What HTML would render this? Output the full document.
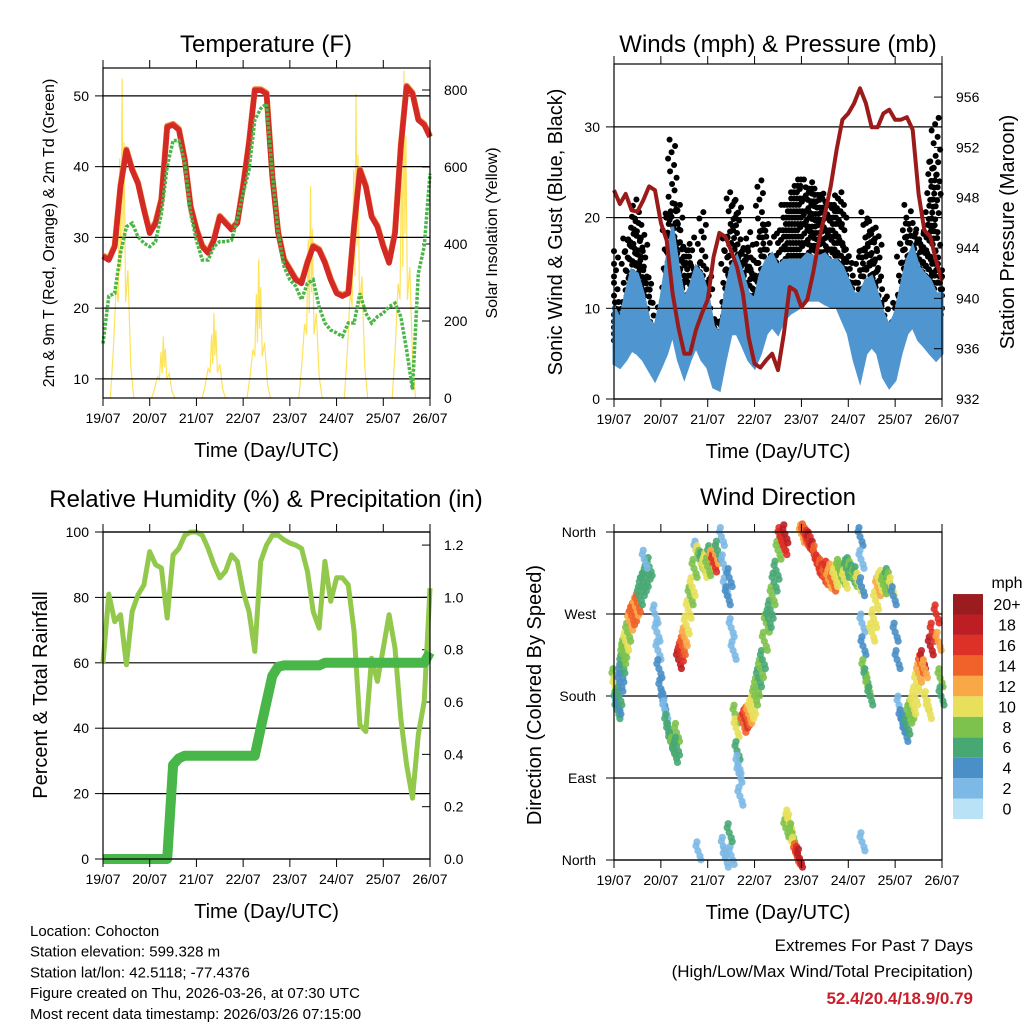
<!DOCTYPE html>
<html><head><meta charset="utf-8"><style>
body{margin:0;background:#fff;}
svg{display:block;font-family:"Liberation Sans",sans-serif;}
</style></head><body>
<svg id="c" width="1024" height="1024" viewBox="0 0 1024 1024"></svg>
<script>
// ---- data (3-hour samples, t = 0..168 h) ----
const tempF=[27.3,26.8,28.7,37.2,42.3,39.5,37.6,33.9,30.6,32,35.3,45.6,45.9,45.2,40.9,34.3,31.1,28.7,27.8,29.6,32.9,32,31.1,32,37.2,43.3,50.8,50.8,50.3,38.6,30.6,26.8,25.4,24,23.5,26.4,28.7,28.2,26.4,24,22.1,21.7,22.1,31.5,39.5,37.2,32.9,31.5,28.7,26.4,30.6,42.8,51.3,50.3,46.6,45.9,44.2];
const dewF=[15,21.7,22.1,27.8,31.5,32,30.1,29.2,28.7,29.4,33.4,40,43.7,43.7,40.5,33.4,29.6,26.8,26.8,28.7,29.4,29.4,29.6,32.5,36.2,39.5,46.6,48.2,48.9,39,30.6,25.9,24,23.1,21.2,23.5,24,20.2,17.9,16.9,16.5,16,17.9,17.9,22.1,19.3,17.9,18.8,19.3,20.2,20.7,18.8,14.1,8.5,24.9,28.7,39];
const solarPeakHour=[9.8,31,57,80,106.6,130,154.6];
const solarPeak=[830,160,220,360,550,790,850];
const pressure=[948.6,947.5,948.3,947,946.9,947.8,948.9,948.6,946,944.6,940.4,937.7,935.6,935.6,937.5,938.8,939.9,943.3,945.2,944.9,943.8,942.5,940.4,936.9,934.8,934.5,935.1,935.6,934.3,937.2,940.9,940.6,939.3,939.9,942,944.6,946.7,948.9,951.8,954.2,954.7,955.5,956.7,955.5,953.6,953.6,954.7,955,954.2,954.2,954.4,953.4,948.3,945.4,944.9,943,941.4];
const windHi=[10.2,8.7,11.6,14.2,13.8,11.6,8.7,8,11,15.3,19,14.6,11,12.4,14.6,13.8,11.6,8,7.2,11.6,14.6,15.7,13.8,11.6,11,13.8,15.3,16,14.6,15.3,15.3,15.3,15.3,16,15.7,15.7,16,15.3,15.3,14.6,13.1,11.6,11.6,13.1,13.5,11.6,9.4,8,9.4,12.4,15.3,16.8,14.6,13.8,13.1,11.6,11.6];
const windLo=[3.9,3.5,4.3,5.4,5,4.3,3.2,2.1,3.5,5,7.2,4.3,2.4,4.3,5.8,4.3,3.5,1.3,1,4.3,7.2,7.2,5.8,4.3,3.5,5,7.2,8,7.2,8.7,9.4,9.8,10.2,10.9,10.9,10.9,10.5,10.2,10.2,8.7,7.2,4.3,2.1,5,5.8,5,2.4,1.3,2.1,5,7.2,8,6.5,5.8,5,4.3,5];
const gust=[16.4,10.9,17.9,20.1,22,18.3,13.5,8,11.6,20.8,28.6,22,16.8,18.3,15.3,21.2,13.5,9.1,9.4,18.3,23.4,22,16.8,19,15.3,24.2,19.7,15.3,18.3,22,22.7,24.2,24.2,23.4,24.5,23.4,22.7,22,22.7,23.4,16.8,13.1,16.8,21.2,19.7,18.3,11.6,6.5,11.6,18.3,22,19.7,18.3,19.4,26.4,31.2,15.3];
const rh=[60,81,72.6,74.7,59.4,75.7,80.8,83.8,94,90,89,73.7,93,95,99,100,100,99,95,90,86,88,93,91,81.8,75.7,63.5,91,96,99,99,97.6,96.6,96,95,88,75.7,70.6,91,78.8,86,86,83.8,69.6,41,39,61.4,54.3,64.5,74.7,64.5,43,28.8,18.6,38,48.2,82.8];
const precip=[0,0,0,0,0,0,0,0,0,0,0,0,0.36,0.385,0.395,0.395,0.395,0.395,0.395,0.395,0.395,0.395,0.395,0.395,0.395,0.395,0.395,0.5,0.6,0.7,0.735,0.74,0.74,0.74,0.74,0.74,0.74,0.74,0.75,0.75,0.75,0.75,0.75,0.75,0.75,0.75,0.75,0.75,0.75,0.75,0.75,0.75,0.75,0.75,0.75,0.75,0.79];
const dirTime=[0,0.5,1,1.5,2,2.5,3,3.5,4,4.5,5,6,7,8,9,10,11,12,13,14,15,16,17,18,15.5,21,22,22.5,23,24,25,26,27,28,29,30,31,32,32,33,34,35,36,37,38,39,40,41,42,43,44,45,46,47,48,49,50,51,52,53,55,56,57,58,59,60,61,62,62.5,63,63.5,64,64.5,66,67,68,69,70,71,72,73,74,75,76,77,78,79,80,81,82,83,84,85,86,87,87.5,88,89,90,91,92,93,94,95,96,97,98,99,100,101,102,103,104,105,106,107,108,109,110,111,112,113,114,115,116,117,118,119,120,121,122,123,124,125,126,126.5,126.8,127,127.5,128,129,130,131,132,133,134,135,136,137,138,139,140,141,142,143,144,145,146,147,148,149,150,151,152,153,154,155,156,157,158,159,160,161,162,163,165,166,167,167.5,43,56,57,60,59,127];
const dirDeg=[200,190,175,165,170,180,195,205,215,225,232,240,250,262,268,272,278,282,290,300,305,310,318,322,330,270,250,230,210,188,175,165,150,140,130,125,117,140,125,220,228,235,245,258,275,290,300,320,340,335,330,328,320,327,322,335,330,326,335,340,355,325,300,290,310,255,230,160,145,120,105,95,70,150,155,158,160,165,170,180,190,200,210,220,240,260,265,275,290,305,318,340,355,350,345,358,35,45,40,30,15,8,5,2,358,359,355,352,350,345,340,335,325,322,320,315,312,318,308,315,305,310,315,320,316,312,308,320,322,318,314,310,312,305,355,330,300,260,235,210,200,190,180,250,265,285,300,305,308,302,305,310,306,300,290,250,220,170,155,150,140,148,160,165,170,180,195,205,215,220,210,175,165,235,250,270,240,200,180,10,15,2,5,30,20];
const dirSpeed=[8,10,6,6,5,7,4,5,6,8,8,10,9,12,14,15,12,14,6,7,6,7,6,6,3,2,3,2,4,4,4,3,6,7,7,8,6,9,6,18,16,14,12,10,10,8,10,8,3,10,8,6,10,10,8,6,12,16,12,7,3,2,3,4,4,3,2,8,10,6,2,3,3,14,16,14,12,10,10,8,8,6,8,6,8,8,6,6,8,7,6,8,16,16,16,18,8,10,10,8,10,14,16,18,12,14,14,16,18,16,18,14,16,16,14,16,14,16,12,12,14,10,10,8,8,8,10,6,6,8,6,8,6,10,4,3,4,3,4,8,6,8,6,10,10,10,12,10,10,8,8,6,8,10,4,4,4,3,4,4,4,6,8,8,10,10,10,12,14,18,12,10,10,18,16,16,12,8,6,3,3,3,3,6,3];
const dayLabels=["19/07","20/07","21/07","22/07","23/07","24/07","25/07","26/07"];
const speedColors=["#b9e2f7","#7cb9e6","#4a8fc7","#48a874","#7dc24c","#e8e05a","#f8a847","#f0622a","#dd3127","#bd1e24","#9b1c1f"];
const speedLabels=["0","2","4","6","8","10","12","14","16","18","20+"];

const NS="http://www.w3.org/2000/svg";
const svg=document.getElementById('c');
function mk(tag,attrs,parent){const e=document.createElementNS(NS,tag);for(const k in attrs)e.setAttribute(k,attrs[k]);(parent||svg).appendChild(e);return e;}
function txt(s,x,y,size,anchor,extra,name){const e=mk('text',Object.assign({x:x,y:y,'font-size':size,'text-anchor':anchor||'middle',fill:'#000'},extra||{}));e.textContent=s;


return e;}
function tAt(i){return i*3;}

function frame(p,name){
  const g=mk('g',{});
  
  
  p.g=g;
  p.x=t=>p.x0+t/168*(p.x1-p.x0);
  return g;
}
function border(p){
  const r=mk('rect',{x:p.x0,y:p.y0,width:p.x1-p.x0,height:p.y1-p.y0,fill:'none',stroke:'#000','stroke-width':1.2},p.g);
  
  
  for(let d=0;d<=7;d++){const x=p.x0+d*(p.x1-p.x0)/7;
    mk('line',{x1:x,x2:x,y1:p.y1,y2:p.y1+8,stroke:'#000','stroke-width':1},p.g);
    mk('line',{x1:x,x2:x,y1:p.y0,y2:p.y0-8,stroke:'#000','stroke-width':1},p.g);
    txt(dayLabels[d],x,p.y1+25,14,'middle',{},'x-tick-label');
  }
  txt('Time (Day/UTC)',(p.x0+p.x1)/2,p.y1+59,20,'middle',{},'x-axis-title');
}
function hgrid(p,y,lab){
  mk('line',{x1:p.x0,x2:p.x1,y1:y,y2:y,stroke:'#000','stroke-width':1.2},p.g);
  mk('line',{x1:p.x0-8,x2:p.x0,y1:y,y2:y,stroke:'#000','stroke-width':1},p.g);
  if(lab!==null)txt(lab,p.x0-14,y+5,14,'end',{},'y-tick-label');
}
function rtick(p,y,lab){
  mk('line',{x1:p.x1,x2:p.x1-8,y1:y,y2:y,stroke:'#000','stroke-width':1},p.g);
  txt(lab,p.x1+14,y+5,14,'start',{},'y2-tick-label');
}
function pathFrom(xs,ys){return xs.map((x,i)=>(i?'L':'M')+x.toFixed(1)+' '+ys[i].toFixed(1)).join(' ');}

// ===== Panel 1: Temperature =====
const P1={x0:103,x1:430,y0:68,y1:398};
frame(P1,'temperature-panel');
const yT=v=>398-(v-7.3)*7.075, yS=v=>398-v*0.385;
txt('Temperature (F)',266,52,24,'middle',{},'temperature-title');
solarPeakHour.forEach((h,i)=>{
  const pk=solarPeak[i];
  const pts=[[h-6,0],[h-4.5,pk*0.15],[h-3,pk*0.35],[h-2,pk*0.3],[h-1.2,pk*0.75],[h-0.6,pk*0.4],[h,pk],[h+0.5,pk*0.5],[h+1,pk*0.8],[h+1.8,pk*0.3],[h+3,pk*0.4],[h+4.5,pk*0.1],[h+6,0]];
  const e=mk('path',{d:pathFrom(pts.map(q=>P1.x(Math.max(0,Math.min(168,q[0])))),pts.map(q=>yS(q[1]))),fill:'none',stroke:'#fde35b','stroke-width':1.2},P1.g);
  
  
});
[10,20,30,40,50].forEach(v=>hgrid(P1,yT(v),String(v)));
[0,200,400,600,800].forEach(v=>rtick(P1,yS(v),String(v)));
const xs1=tempF.map((v,i)=>P1.x(tAt(i)));
let e=mk('path',{d:pathFrom(xs1,tempF.map(v=>yT(v)-1)),fill:'none',stroke:'#f08a3a','stroke-width':6,'stroke-linejoin':'round'},P1.g);

e=mk('path',{d:pathFrom(xs1,tempF.map(yT)),fill:'none',stroke:'#d42a26','stroke-width':5.5,'stroke-linejoin':'round'},P1.g);

e=mk('path',{d:pathFrom(xs1,dewF.map(yT)),fill:'none',stroke:'#4bb648','stroke-width':3.5,'stroke-dasharray':'3 1.5'},P1.g);

border(P1);
txt('2m & 9m T (Red, Orange) & 2m Td (Green)',0,0,16,'middle',{transform:'translate(54,233) rotate(-90)'},'y-axis-title');
txt('Solar Insolation (Yellow)',0,0,16,'middle',{transform:'translate(497,233) rotate(-90)'},'y2-axis-title');

// ===== Panel 2: Winds =====
const P2={x0:614,x1:942,y0:64,y1:399};
frame(P2,'winds-panel');
const yW=v=>399-v*9.07, yP=v=>399-(v-932)*12.58;
txt('Winds (mph) & Pressure (mb)',778,52,24,'middle',{},'winds-title');
const xs2=windHi.map((v,i)=>P2.x(tAt(i)));
const offs=[-9,-2,5,-6,2,9,-4,7,0,-8,4,-1,8,-5,3];
for(let i=0;i<gust.length;i++){
  const segs=[[xs2[i],windHi[i],gust[i]]];
  if(i<gust.length-1)segs.push([(xs2[i]+xs2[i+1])/2,(windHi[i]+windHi[i+1])/2,Math.min(gust[i],gust[i+1])]);
  segs.forEach(s=>{
    let k=0;
    for(let v=s[1]-3; v<=s[2]; v+=0.7){
      const c=mk('circle',{cx:Math.max(P2.x0,Math.min(P2.x1,s[0]+offs[k%15]*0.5)),cy:yW(v),r:3,fill:'#000'},P2.g);
      
      
      k++;
    }
  });
}
e=mk('path',{d:pathFrom(xs2.concat(xs2.slice().reverse()),windHi.map(yW).concat(windLo.map(yW).reverse()))+'Z',fill:'#4f96d0',stroke:'#4f96d0','stroke-width':3},P2.g);

[0,10,20,30].forEach(v=>hgrid(P2,yW(v),String(v)));
[932,936,940,944,948,952,956].forEach(v=>rtick(P2,yP(v),String(v)));
e=mk('path',{d:pathFrom(xs2,pressure.map(yP)),fill:'none',stroke:'#9b1b1b','stroke-width':4,'stroke-linejoin':'round'},P2.g);

border(P2);
txt('Sonic Wind & Gust (Blue, Black)',0,0,20,'middle',{transform:'translate(562,232) rotate(-90)'},'y-axis-title');
txt('Station Pressure (Maroon)',0,0,20,'middle',{transform:'translate(1014,232) rotate(-90)'},'y2-axis-title');

// ===== Panel 3: RH & Precip =====
const P3={x0:103,x1:430,y0:532,y1:859};
frame(P3,'humidity-panel');
const yR=v=>859-v*3.27, yIn=v=>859-v/0.0125*3.27;
txt('Relative Humidity (%) & Precipitation (in)',266,507,24,'middle',{},'humidity-title');
[0,20,40,60,80,100].forEach(v=>hgrid(P3,yR(v),String(v)));
[0,0.2,0.4,0.6,0.8,1.0,1.2].forEach(v=>rtick(P3,yIn(v),v.toFixed(1)));
const xs3=rh.map((v,i)=>P3.x(tAt(i)));
e=mk('path',{d:pathFrom(xs3,rh.map(yR)),fill:'none',stroke:'#92c84c','stroke-width':5,'stroke-linejoin':'round'},P3.g);

e=mk('path',{d:pathFrom(xs3,precip.map(yIn)),fill:'none',stroke:'#48b648','stroke-width':10,'stroke-linejoin':'round'},P3.g);

border(P3);
txt('Percent & Total Rainfall',0,0,20,'middle',{transform:'translate(47,695) rotate(-90)'},'y-axis-title');

// ===== Panel 4: Wind direction =====
const P4={x0:614,x1:942,y0:532,y1:860};
frame(P4,'direction-panel');
const yD=v=>860-v/360*328;
txt('Wind Direction',778,505,24,'middle',{},'direction-title');
[0,90,180,270,360].forEach(v=>hgrid(P4,yD(v),null));
[['North',0],['East',90],['South',180],['West',270],['North',360]].forEach(a=>txt(a[0],596,yD(a[1])+5,14,'end',{},'y-tick-label'));
const jit=[[0,0],[2,5],[-2,-5],[3,9],[-1,-9]];
dirTime.forEach((t,i)=>{
  const idx=Math.min(10,Math.floor(dirSpeed[i]/2));
  jit.forEach(j=>{
    const c=mk('circle',{cx:P4.x(t)+j[0],cy:yD(dirDeg[i])+j[1],r:3.6,fill:speedColors[idx],'fill-opacity':0.9},P4.g);
    
    
  });
});
border(P4);
txt('Direction (Colored By Speed)',0,0,20,'middle',{transform:'translate(541,695) rotate(-90)'},'y-axis-title');
const cb=mk('g',{});


speedColors.forEach((c,i)=>{
  const y=819-(i+1)*20.45;
  const r=mk('rect',{x:953,y:y,width:30,height:20.45,fill:c},cb);
  
  
  txt(speedLabels[i],1007,y+16,16,'middle',{},'colorbar-label');
});
txt('mph',1007,588,16,'middle',{},'colorbar-title');

const foot=['Location: Cohocton','Station elevation: 599.328 m','Station lat/lon: 42.5118; -77.4376','Figure created on Thu, 2026-03-26, at 07:30 UTC','Most recent data timestamp: 2026/03/26 07:15:00'];
foot.forEach((s,i)=>txt(s,30,936+i*20.7,15,'start',{},'station-info'));
txt('Extremes For Past 7 Days',973,951,17,'end',{},'extremes-title');
txt('(High/Low/Max Wind/Total Precipitation)',973,977,17,'end',{},'extremes-subtitle');
txt('52.4/20.4/18.9/0.79',973,1004,17,'end',{fill:'#c8202a','font-weight':'bold'},'extremes-values');
</script>
</body></html>
